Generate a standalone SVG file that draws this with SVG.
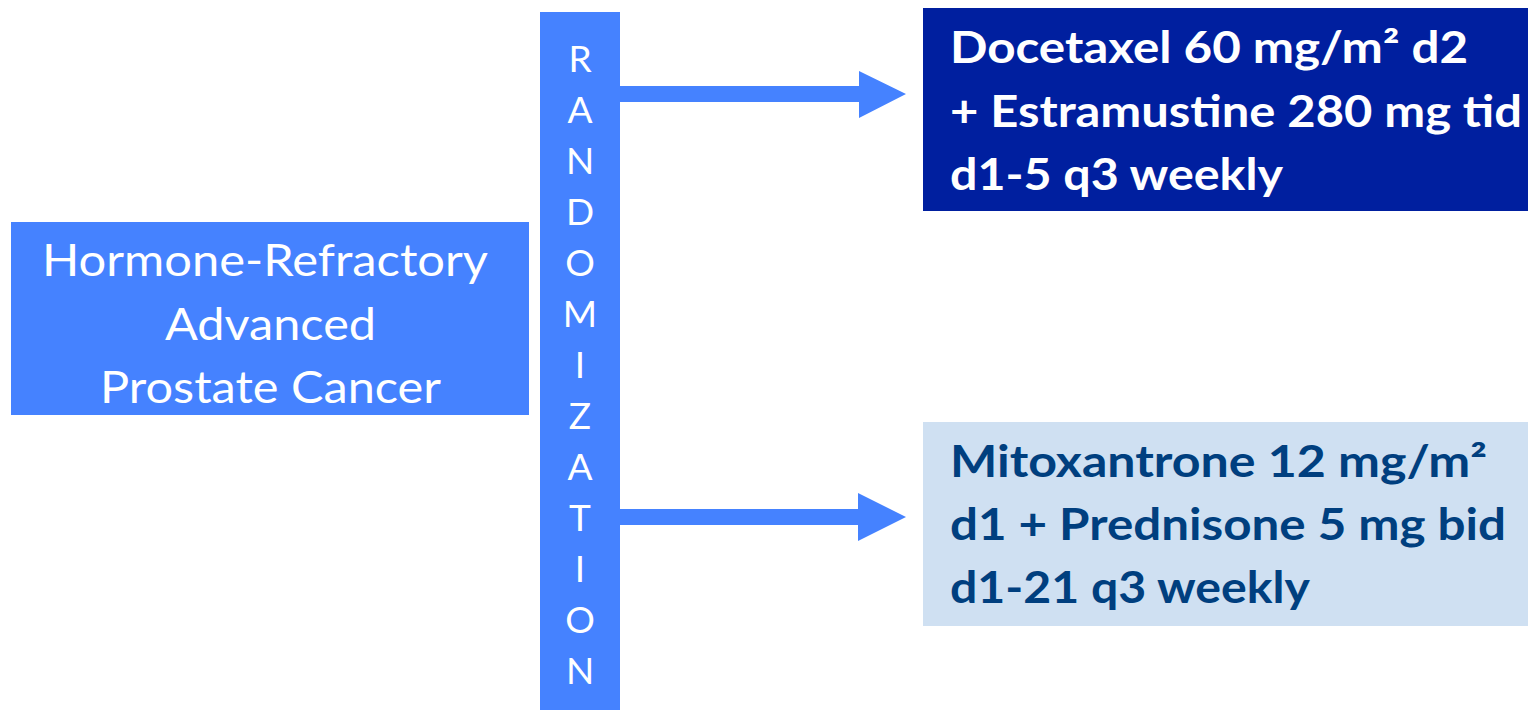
<svg xmlns="http://www.w3.org/2000/svg" width="1528" height="710" viewBox="0 0 1528 710">
<style>
.blue{fill:#4582FF}
.w{fill:#FFFFFF;font-family:Lato,"Open Sans","Liberation Sans",sans-serif}
.reg{font-size:45px;font-weight:400}
.ltr{font-size:37px;font-weight:400;text-anchor:middle}
.b{font-family:Lato,"Open Sans","Liberation Sans",sans-serif;font-size:43px;font-weight:700}
</style>
<rect width="1528" height="710" fill="#FFFFFF"/>
<g id="connectors">
<polygon class="blue" points="620,86 859,86 859,71 906,94 859,118 859,102 620,102"/>
<polygon class="blue" points="620,509 858,509 858,493 906,517 858,541 858,525 620,525"/>
</g>
<g id="population">
<rect class="blue" x="11" y="222" width="518" height="193"/>
<text class="w reg" x="42" y="276" textLength="446" lengthAdjust="spacingAndGlyphs">Hormone-Refractory</text>
<text class="w reg" x="165" y="340" textLength="211" lengthAdjust="spacingAndGlyphs">Advanced</text>
<text class="w reg" x="100" y="403" textLength="341" lengthAdjust="spacingAndGlyphs">Prostate Cancer</text>
</g>
<g id="randomization">
<rect class="blue" x="540" y="12" width="80" height="698"/>
<text class="w ltr" x="580" y="72">R</text>
<text class="w ltr" x="580" y="123">A</text>
<text class="w ltr" x="580" y="174">N</text>
<text class="w ltr" x="580" y="225">D</text>
<text class="w ltr" x="580" y="276">O</text>
<text class="w ltr" x="580" y="327">M</text>
<text class="w ltr" x="580" y="378">I</text>
<text class="w ltr" x="580" y="429">Z</text>
<text class="w ltr" x="580" y="480">A</text>
<text class="w ltr" x="580" y="531">T</text>
<text class="w ltr" x="580" y="582">I</text>
<text class="w ltr" x="580" y="633">O</text>
<text class="w ltr" x="580" y="684">N</text>
</g>
<g id="arm-docetaxel">
<rect x="923" y="8" width="605" height="203" fill="#001F9F"/>
<text class="b" fill="#FFFFFF" x="950" y="63" textLength="518" lengthAdjust="spacingAndGlyphs">Docetaxel 60 mg/m² d2</text>
<text class="b" fill="#FFFFFF" x="950" y="127" textLength="572" lengthAdjust="spacingAndGlyphs">+ Estramustine 280 mg tid</text>
<text class="b" fill="#FFFFFF" x="950" y="190" textLength="333" lengthAdjust="spacingAndGlyphs">d1-5 q3 weekly</text>
</g>
<g id="arm-mitoxantrone">
<rect x="923" y="422" width="605" height="204" fill="#CFE0F2"/>
<text class="b" fill="#003F7F" x="950" y="477" textLength="537" lengthAdjust="spacingAndGlyphs">Mitoxantrone 12 mg/m²</text>
<text class="b" fill="#003F7F" x="950" y="540" textLength="556" lengthAdjust="spacingAndGlyphs">d1 + Prednisone 5 mg bid</text>
<text class="b" fill="#003F7F" x="950" y="603" textLength="360" lengthAdjust="spacingAndGlyphs">d1-21 q3 weekly</text>
</g>
</svg>
